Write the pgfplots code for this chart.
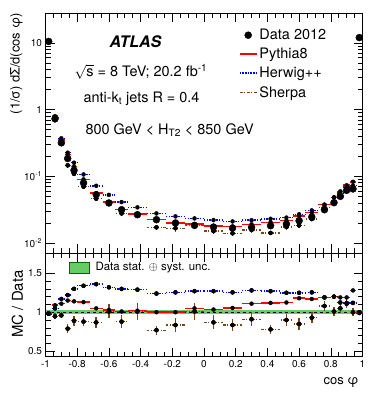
\documentclass[border=0pt]{standalone}
\usepackage{pgfplots}
\pgfplotsset{compat=1.18}
\usepackage{pgfplotstable}
\usepackage{fontspec}
\setmainfont{TeX Gyre Heros}

\definecolor{sherpa}{RGB}{120,70,20}
\definecolor{band}{RGB}{102,204,102}

% bin centre, half width, data, MC predictions, ratios MC/data
\pgfplotstableread{
x xe data py hw sh she rpy rhw rhwe rsh rshe
-0.98 0.02 10.5 10.4 10.3 10.3 0.21 0.99 0.98 0.015 0.98 0.02
-0.94 0.02 0.73 0.796 0.767 0.694 0.029 1.09 1.05 0.015 0.95 0.04
-0.90 0.02 0.318 0.353 0.372 0.305 0.0127 1.11 1.17 0.015 0.96 0.04
-0.86 0.02 0.185 0.213 0.226 0.146 0.0111 1.15 1.22 0.015 0.79 0.06
-0.82 0.02 0.123 0.140 0.160 0.109 0.0074 1.14 1.30 0.015 0.89 0.06
-0.76 0.04 0.0796 0.0900 0.1067 0.0700 0.0048 1.13 1.34 0.015 0.88 0.06
-0.68 0.04 0.0531 0.0558 0.0722 0.0462 0.0037 1.05 1.36 0.015 0.87 0.07
-0.60 0.04 0.0399 0.0411 0.0527 0.0403 0.0036 1.03 1.32 0.015 1.01 0.09
-0.52 0.04 0.0316 0.0319 0.0411 0.0278 0.0025 1.01 1.30 0.015 0.88 0.08
-0.42 0.06 0.0266 0.0271 0.0343 0.0269 0.0029 1.02 1.29 0.015 1.01 0.11
-0.30 0.06 0.0224 0.0224 0.0278 0.0172 0.0013 1.00 1.24 0.015 0.77 0.06
-0.18 0.06 0.0200 0.0200 0.0251 0.0167 0.0018 1.00 1.255 0.015 0.835 0.09
-0.06 0.06 0.0184 0.0193 0.0234 0.0186 0.0020 1.05 1.27 0.015 1.01 0.11
0.06 0.06 0.0174 0.0180 0.0221 0.0151 0.0016 1.035 1.27 0.015 0.87 0.09
0.18 0.06 0.0168 0.0177 0.0211 0.0140 0.0013 1.055 1.255 0.015 0.835 0.08
0.30 0.06 0.0172 0.0191 0.0220 0.0157 0.0015 1.11 1.28 0.015 0.91 0.09
0.42 0.06 0.0182 0.0204 0.0231 0.0142 0.0011 1.12 1.27 0.015 0.78 0.06
0.52 0.04 0.0193 0.0217 0.0241 0.0174 0.0015 1.125 1.25 0.015 0.90 0.08
0.60 0.04 0.0216 0.0255 0.0270 0.0184 0.0017 1.18 1.25 0.015 0.85 0.08
0.68 0.04 0.0246 0.0288 0.0309 0.0229 0.0017 1.17 1.255 0.015 0.93 0.07
0.76 0.04 0.0316 0.0376 0.0376 0.0341 0.0022 1.19 1.19 0.015 1.08 0.07
0.82 0.02 0.0403 0.0484 0.0484 0.0407 0.0024 1.20 1.20 0.015 1.01 0.06
0.86 0.02 0.0501 0.0596 0.0564 0.0526 0.0030 1.19 1.125 0.015 1.05 0.06
0.90 0.02 0.0617 0.0734 0.0691 0.0685 0.0037 1.19 1.12 0.015 1.11 0.06
0.94 0.02 0.0647 0.0828 0.0725 0.0647 0.0032 1.28 1.12 0.015 1.00 0.05
0.98 0.02 12.0 12.0 11.9 12.0 0.24 1.00 0.99 0.015 1.00 0.02
}\teec

\pgfplotsset{
  rootaxis/.style={
    scale only axis, width=317bp,
    xmin=-1, xmax=1,
    xtick={-1,-0.8,-0.6,-0.4,-0.2,0,0.2,0.4,0.6,0.8,1},
    minor x tick num=3,
    tick align=inside,
    major tick length=9bp, minor tick length=5bp,
    every tick/.style={black, line width=0.6pt},
    axis line style={line width=0.8pt},
    tick label style={font=\fontsize{10}{12}\selectfont},
    /pgf/number format/assume math mode=true,
  },
  nomark/.style={only marks, mark=*, mark options={draw=none, fill=none}, forget plot},
  hseg/.style={nomark,
    error bars/x dir=both, error bars/x explicit, error bars/error mark=none,
    error bars/error bar style={#1}},
  vseg/.style={nomark,
    error bars/y dir=both, error bars/y explicit, error bars/error mark=none,
    error bars/error bar style={#1}},
  shline/.style={sherpa, line width=1.3pt, dash pattern=on 3bp off 1.5bp on 1bp off 1.5bp},
  hwline/.style={blue, line width=1.5pt, dash pattern=on 1.5bp off 1.2bp},
  pyline/.style={red, line width=1.6pt},
}

\begin{document}
\begin{tikzpicture}
\useasboundingbox (0,0) rectangle (382bp,398bp);

% ---- upper panel ----
\begin{axis}[rootaxis,
    at={(45.5bp,145bp)}, anchor=south west, height=240bp,
    ymode=log, ymin=0.0071, ymax=28,
    xticklabels={},
    ytick={0.01,0.1,1,10},
    yticklabels={10\textsuperscript{-2},10\textsuperscript{-1},1,10},
    legend style={at={(0.6,0.95)}, anchor=north west, draw=none, fill=none,
      font=\fontsize{14.5}{17}\selectfont, row sep=3bp},
    legend cell align=left,
  ]
  \addplot[hseg={shline}] table[x=x, y=sh, x error=xe] {\teec};
  \addplot[vseg={sherpa, line width=1.5pt}] table[x=x, y=sh, y error=she] {\teec};
  \addplot[hseg={hwline}] table[x=x, y=hw, x error=xe] {\teec};
  \addplot[hseg={pyline}] table[x=x, y=py, x error=xe] {\teec};
  \addplot[only marks, mark=*, mark size=3.5bp, black, forget plot]
    table[x=x, y=data] {\teec};

  \addlegendimage{only marks, mark=*, mark size=3.5bp, black}
  \addlegendentry{Data 2012}
  \addlegendimage{pyline}
  \addlegendentry{Pythia8}
  \addlegendimage{hwline}
  \addlegendentry{Herwig++}
  \addlegendimage{shline}
  \addlegendentry{Sherpa}
\end{axis}

% ---- ratio panel ----
\begin{axis}[rootaxis,
    at={(45.5bp,41.3bp)}, anchor=south west, height=103.7bp,
    ymin=0.43, ymax=1.76,
    ytick={0.5,1,1.5}, minor y tick num=4,
  ]
  \addplot[fill=band, draw=none, forget plot] coordinates {(-1,0.975) (1,0.975) (1,1.025) (-1,1.025)} -- cycle;
  \addplot[black, dashed, line width=0.8pt, forget plot] coordinates {(-1,1) (1,1)};
  \addplot[hseg={shline}] table[x=x, y=rsh, x error=xe] {\teec};
  \addplot[vseg={sherpa, line width=1.5pt}] table[x=x, y=rsh, y error=rshe] {\teec};
  \addplot[hseg={hwline}] table[x=x, y=rhw, x error=xe] {\teec};
  \addplot[vseg={blue, line width=1.2pt}] table[x=x, y=rhw, y error=rhwe] {\teec};
  \addplot[hseg={pyline}] table[x=x, y=rpy, x error=xe] {\teec};
\end{axis}

% ---- texts ----
\node[anchor=west, font=\fontsize{16}{19}\bfseries\itshape\selectfont] at (106bp,356bp) {ATLAS};
\node[anchor=west, font=\fontsize{14.5}{17}\selectfont] at (71bp,326bp) {$\sqrt{\mbox{s}}$ = 8 TeV; 20.2 fb\textsuperscript{-1}};
\node[anchor=west, font=\fontsize{14.5}{17}\selectfont] at (80bp,299bp) {anti-k\textsubscript{t} jets R = 0.4};
\node[anchor=west, font=\fontsize{14.5}{17}\selectfont] at (82bp,268bp) {800 GeV < H\textsubscript{T2} < 850 GeV};

\node[rotate=90, anchor=east, font=\fontsize{13}{15}\selectfont] at (16.5bp,388bp) {(1/σ) dΣ/d(cos φ)};
\node[rotate=90, font=\fontsize{15}{18}\selectfont] at (17.5bp,94bp) {MC / Data};
\node[anchor=east, font=\fontsize{13}{15}\selectfont] at (362bp,16bp) {cos φ};

\filldraw[fill=band, draw=black!60!green, line width=0.6pt] (69bp,125bp) rectangle (89bp,136bp);
\node[anchor=west, font=\fontsize{11.5}{14}\selectfont] at (92bp,130.5bp) {Data stat. $\oplus$ syst. unc.};
\end{tikzpicture}
\end{document}
